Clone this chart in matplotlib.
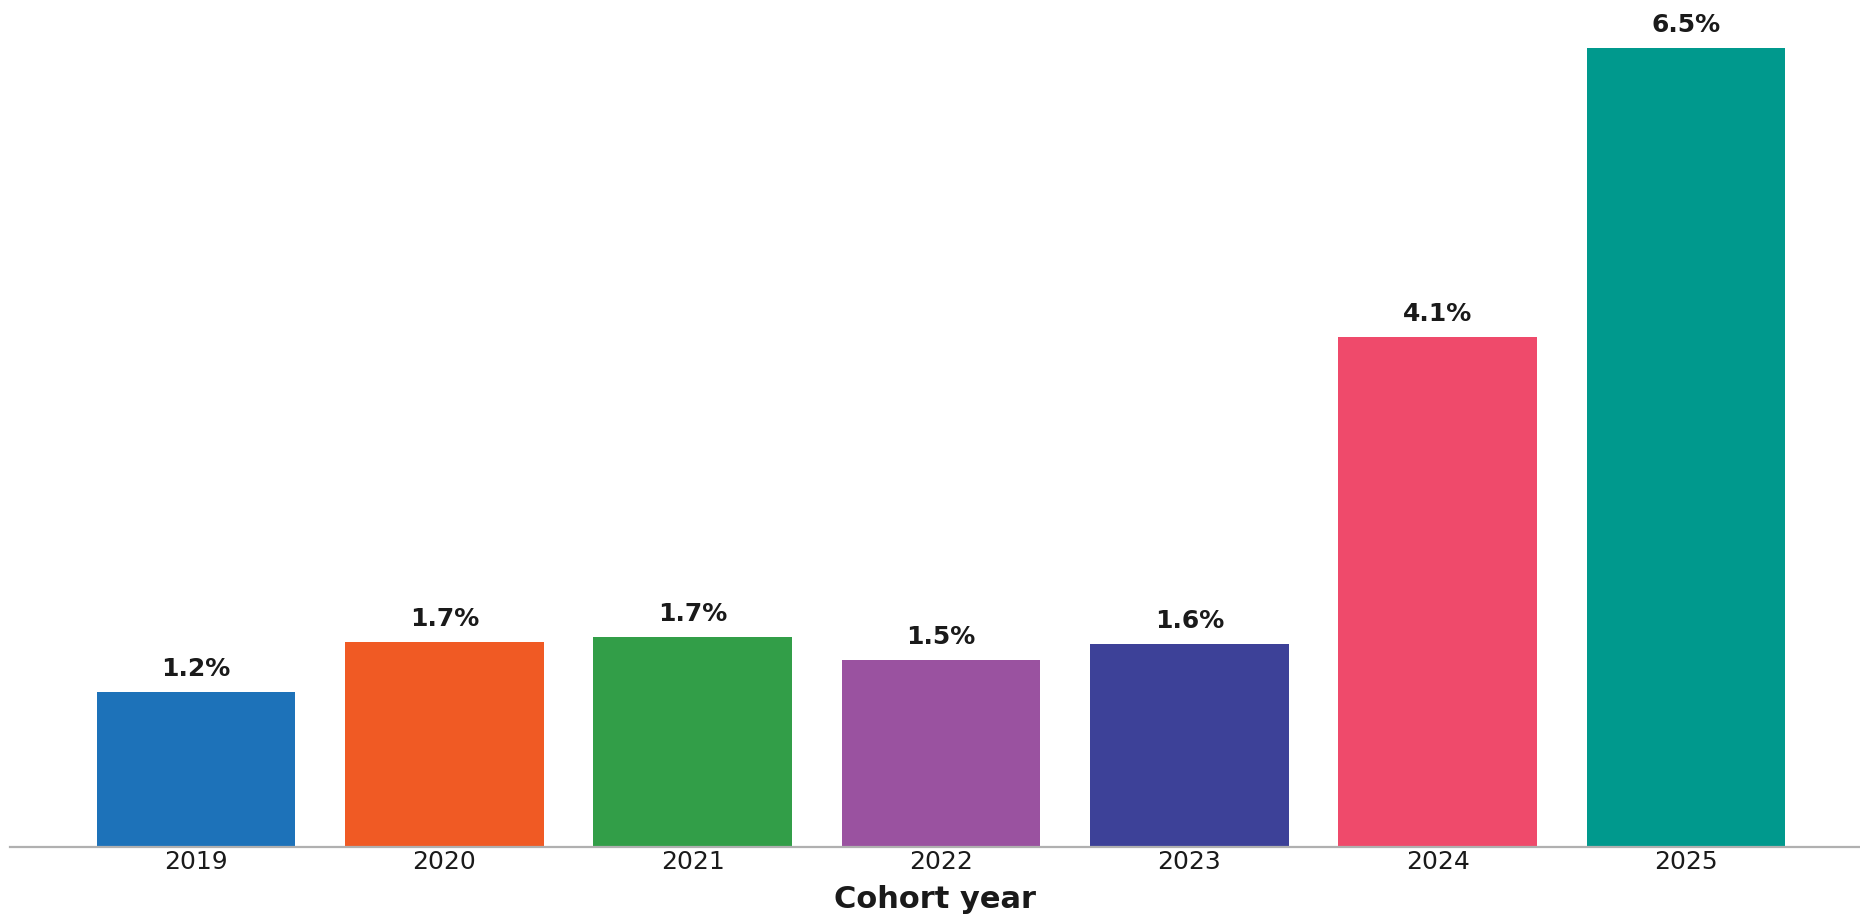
import matplotlib
matplotlib.use("Agg")
import matplotlib.pyplot as plt

years = ["2019", "2020", "2021", "2022", "2023", "2024", "2025"]
values = [1.26, 1.67, 1.71, 1.52, 1.65, 4.15, 6.5]
labels = ["1.2%", "1.7%", "1.7%", "1.5%", "1.6%", "4.1%", "6.5%"]
colors = ["#1d72b9", "#f05a24", "#329e48", "#9a52a0", "#3d4198", "#ef4a6b", "#00998d"]

plt.rcParams['font.family'] = ['DejaVu Sans']
text_color = "#1a1a1a"

fig = plt.figure(figsize=(18.6, 9.15), dpi=100)
ax = fig.add_axes([10 / 1860, 68 / 915, 1 - 10 / 1860, 1 - 68 / 915])

x = range(len(years))
bars = ax.bar(x, values, width=0.80, color=colors, zorder=2)

for xi, v, lab in zip(x, values, labels):
    ax.annotate(lab, (xi, v), xytext=(0, 8), textcoords="offset points",
                ha="center", va="bottom", fontsize=18, fontweight="bold",
                color=text_color)

ax.set_xlim(-0.749, 6.70)
ax.set_ylim(0, 6.891)
ax.set_xticks(list(x))
ax.set_xticklabels(years, fontsize=18, color=text_color)
ax.tick_params(axis="x", length=0, pad=2)
ax.set_yticks([])
for s in ["top", "right", "left"]:
    ax.spines[s].set_visible(False)
ax.spines["bottom"].set_color("#b0b0b0")
ax.spines["bottom"].set_linewidth(1.6)
ax.spines["bottom"].set_zorder(3)

fig.text(0.5 + 5 / 1860, 7 / 915, "Cohort year", ha="center", va="baseline",
         fontsize=22, fontweight="bold", color=text_color)

fig.savefig("out.png", dpi=100, facecolor="white")
